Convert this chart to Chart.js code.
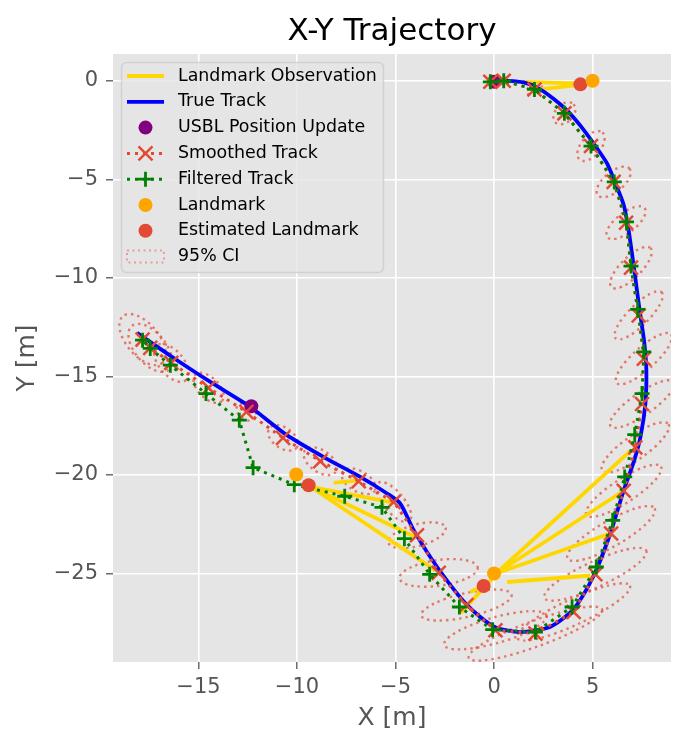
<!DOCTYPE html>
<html>
<head>
<meta charset="utf-8">
<script src="https://cdn.jsdelivr.net/npm/chart.js@4.4.1/dist/chart.umd.min.js"></script>
<style>
  body { margin: 0; background: #fff; }
  canvas { display: block; }
</style>
</head>
<body>
<canvas id="traj" width="687" height="749"></canvas>
<script>
// tick labels
const xTicks = [-15, -10, -5, 0, 5];
const yTicks = [0, -5, -10, -15, -20, -25];

// true track
const trueX = [0, 0.7, 1.5, 2.2, 3.0, 3.7, 4.4, 5.1, 5.74, 6.2, 6.58, 6.8, 7.0, 7.17, 7.34, 7.5, 7.63, 7.73, 7.68, 7.43, 7.1, 6.58, 5.9, 5.06, 4.04, 2.86, 1.33, 0, -1.37, -2.89, -4.08, -4.76, -5.43, -6.79, -8.65, -10.51, -12.37, -14.4, -16.09, -18.12];
const trueY = [0, 0, -0.08, -0.35, -0.9, -1.5, -2.3, -3.25, -4.2, -5.3, -6.3, -7.4, -8.76, -10.0, -11.3, -12.4, -13.33, -14.69, -16.38, -18.07, -19.3, -20.78, -22.97, -25.1, -26.8, -27.7, -27.97, -27.7, -26.6, -24.67, -22.8, -21.45, -20.94, -20.1, -19.09, -17.98, -16.55, -15.28, -14.18, -12.79];

// smoothed track
const smoothX = [-0.19, 0.49, 2.05, 3.57, 4.92, 6.07, 6.7, 6.95, 7.34, 7.6, 7.51, 7.17, 6.58, 5.94, 5.14, 4.04, 2.1, 0.07, -1.4, -2.81, -3.91, -5.1, -6.87, -8.82, -10.71, -12.57, -14.49, -16.38, -17.45, -17.84];
const smoothY = [-0.05, 0, -0.44, -1.65, -3.31, -5.13, -7.2, -9.48, -11.9, -14.1, -16.4, -18.6, -20.8, -22.97, -25.04, -26.95, -28.05, -27.88, -26.6, -24.97, -23.06, -21.37, -20.32, -19.3, -18.12, -16.8, -15.58, -14.31, -13.55, -13.13];

// 95% CI ellipses on the smoothed track (semi-axes in m, tilt in degrees)
const ciA = [0.15, 0.25, 0.4, 0.65, 0.9, 1.05, 1.2, 1.4, 1.65, 1.85, 1.95, 2.05, 2.25, 2.55, 2.85, 3.15, 3.6, 2.7, 2.35, 2.0, 1.5, 1.25, 0.95, 0.95, 0.85, 0.55, 0.95, 1.15, 1.45, 1.55];
const ciB = [0.12, 0.18, 0.3, 0.45, 0.5, 0.5, 0.5, 0.52, 0.52, 0.56, 0.56, 0.6, 0.6, 0.65, 0.65, 0.65, 0.65, 0.65, 0.6, 0.65, 0.55, 0.52, 0.52, 0.55, 0.52, 0.38, 0.52, 0.62, 0.78, 0.82];
const ciAngle = [0, 0, 30, 45, 50, 40, 38, 45, 45, 42, 35, 35, 33, 30, 25, 25, 20, 16, 13, 8, 15, -50, -30, -35, -35, -35, -45, -50, -50, -50];

// filtered track
const filtX = [-0.19, 0.49, 2.05, 3.57, 4.92, 6.1, 6.72, 6.95, 7.29, 7.6, 7.51, 7.14, 6.63, 6.02, 5.19, 3.96, 2.1, -0.07, -1.76, -3.27, -4.55, -5.69, -7.58, -10.14, -12.23, -12.93, -14.62, -16.43, -17.45, -17.84];
const filtY = [-0.05, 0, -0.44, -1.65, -3.31, -5.13, -7.16, -9.4, -11.6, -13.75, -15.87, -17.95, -20.1, -22.3, -24.67, -26.7, -27.97, -27.85, -26.7, -25.04, -23.23, -21.64, -21.08, -20.49, -19.63, -17.22, -15.87, -14.43, -13.58, -13.16];

// USBL fixes, landmarks, estimated landmarks
const usblX = [0, -12.32];
const usblY = [-0.05, -16.51];
const landX = [5.0, 0, -10.04];
const landY = [0, -25.0, -19.98];
const estX = [4.38, -0.53, -9.41];
const estY = [-0.18, -25.63, -20.52];

// landmark observation segments
const obsX0 = [1.42, 2.35, 0.1, 0.1, 0.1, 0.66, -1.2, -1.7, -9.31, -9.31, -9.31, -8.14];
const obsY0 = [-0.05, -0.44, -25.0, -25.0, -25.0, -25.43, -25.94, -27.0, -20.6, -20.6, -20.6, -20.4];
const obsX1 = [4.21, 4.21, 6.95, 6.5, 5.9, 4.9, -0.7, 0.07, -5.1, -4.0, -2.98, -6.88];
const obsY1 = [-0.13, -0.22, -18.75, -20.85, -22.97, -25.1, -25.69, -25.09, -21.4, -23.15, -24.84, -20.27];

const RED = '#E24A33';
const pts = (xs, ys) => xs.map((v, i) => ({ x: v, y: ys[i] }));

const obsSets = obsX0.map((v, i) => ({
  label: 'Landmark Observation',
  data: [{ x: v, y: obsY0[i] }, { x: obsX1[i], y: obsY1[i] }],
  showLine: true, borderColor: '#FFD700', borderWidth: 3.8, pointRadius: 0, order: 9
}));

const ciPlugin = {
  id: 'ci',
  beforeDraw(chart) {
    const { ctx, chartArea: a } = chart;
    ctx.save();
    ctx.fillStyle = '#E5E5E5';
    ctx.fillRect(a.left, a.top, a.width, a.height);
    ctx.restore();
  },
  beforeDatasetsDraw(chart) {
    const { ctx, chartArea: a, scales: { x, y } } = chart;
    ctx.save();
    ctx.beginPath();
    ctx.rect(a.left, a.top, a.width, a.height);
    ctx.clip();
    ctx.strokeStyle = 'rgba(226,74,51,0.7)';
    ctx.lineWidth = 2.4;
    ctx.setLineDash([2.4, 4]);
    smoothX.forEach((cx, i) => {
      const px = x.getPixelForValue(cx), py = y.getPixelForValue(smoothY[i]);
      const rx = Math.abs(x.getPixelForValue(cx + ciA[i]) - px);
      const ry = Math.abs(y.getPixelForValue(smoothY[i] + ciB[i]) - py);
      ctx.beginPath();
      ctx.ellipse(px, py, rx, ry, -ciAngle[i] * Math.PI / 180, 0, 2 * Math.PI);
      ctx.stroke();
    });
    ctx.restore();
  }
};

const legendItems = [
  { label: 'Landmark Observation', kind: 'line', color: '#FFD700' },
  { label: 'True Track', kind: 'line', color: '#0000FF' },
  { label: 'USBL Position Update', kind: 'dot', color: '#800080' },
  { label: 'Smoothed Track', kind: 'dotline', color: RED, marker: 'x' },
  { label: 'Filtered Track', kind: 'dotline', color: '#008000', marker: '+' },
  { label: 'Landmark', kind: 'dot', color: '#FFA500' },
  { label: 'Estimated Landmark', kind: 'dot', color: RED },
  { label: '95% CI', kind: 'patch', color: 'rgba(226,74,51,0.45)' }
];

const legendPlugin = {
  id: 'boxLegend',
  afterDraw(chart) {
    const ctx = chart.ctx;
    const a = chart.chartArea;
    ctx.save();
    // title, centred over the plot area
    ctx.fillStyle = '#000';
    ctx.font = "31px 'DejaVu Sans'";
    ctx.textAlign = 'center';
    ctx.textBaseline = 'alphabetic';
    ctx.fillText('X-Y Trajectory', (a.left + a.right) / 2, 40);

    ctx.beginPath();
    ctx.roundRect(121.5, 62.5, 262, 210, 5);
    ctx.fillStyle = 'rgba(229,229,229,0.8)';
    ctx.fill();
    ctx.strokeStyle = 'rgba(204,204,204,0.8)';
    ctx.lineWidth = 1.5;
    ctx.stroke();

    const x0 = 127, x1 = 164, xm = 145.5;
    legendItems.forEach((it, i) => {
      const yy = 76 + i * 25.8;
      ctx.setLineDash([]);
      if (it.kind === 'line') {
        ctx.strokeStyle = it.color; ctx.lineWidth = 3.8;
        ctx.beginPath(); ctx.moveTo(x0, yy); ctx.lineTo(x1, yy); ctx.stroke();
      } else if (it.kind === 'dot') {
        ctx.fillStyle = it.color;
        ctx.beginPath(); ctx.arc(xm, yy, 7, 0, 2 * Math.PI); ctx.fill();
      } else if (it.kind === 'dotline') {
        ctx.strokeStyle = it.color; ctx.lineWidth = 3;
        ctx.setLineDash([3, 5]);
        ctx.beginPath(); ctx.moveTo(x0, yy); ctx.lineTo(x1, yy); ctx.stroke();
        ctx.setLineDash([]);
        ctx.lineWidth = it.marker === 'x' ? 2.5 : 2.8;
        ctx.beginPath();
        if (it.marker === 'x') {
          ctx.moveTo(xm - 7, yy - 7); ctx.lineTo(xm + 7, yy + 7);
          ctx.moveTo(xm - 7, yy + 7); ctx.lineTo(xm + 7, yy - 7);
        } else {
          ctx.moveTo(xm - 7.5, yy); ctx.lineTo(xm + 7.5, yy);
          ctx.moveTo(xm, yy - 7.5); ctx.lineTo(xm, yy + 7.5);
        }
        ctx.stroke();
      } else {
        ctx.strokeStyle = it.color; ctx.lineWidth = 2;
        ctx.setLineDash([2, 3.5]);
        ctx.strokeRect(x0, yy - 6, x1 - x0, 12);
      }
      ctx.setLineDash([]);
      ctx.fillStyle = '#000';
      ctx.font = "17.4px 'DejaVu Sans'";
      ctx.textBaseline = 'middle';
      ctx.textAlign = 'left';
      ctx.fillText(it.label, 178, yy);
    });
    ctx.restore();
  }
};

Chart.defaults.font.family = "'DejaVu Sans', sans-serif";

new Chart(document.getElementById('traj'), {
  type: 'scatter',
  data: {
    datasets: [
      ...obsSets,
      {
        label: 'True Track', data: pts(trueX, trueY), showLine: true,
        borderColor: '#0000FF', borderWidth: 3.8, pointRadius: 0, tension: 0.25, order: 8
      },
      {
        label: 'USBL Position Update', data: pts(usblX, usblY),
        backgroundColor: '#800080', borderWidth: 0, pointRadius: 7, order: 7
      },
      {
        label: 'Smoothed Track', data: pts(smoothX, smoothY), showLine: true,
        borderColor: RED, borderWidth: 3, borderDash: [3, 5],
        pointStyle: 'crossRot', pointRadius: 9.8, pointBorderColor: RED, pointBorderWidth: 2.5, order: 6
      },
      {
        label: 'Filtered Track', data: pts(filtX, filtY), showLine: true,
        borderColor: '#008000', borderWidth: 3, borderDash: [3, 5],
        pointStyle: 'cross', pointRadius: 7.5, pointBorderColor: '#008000', pointBorderWidth: 2.8, order: 5
      },
      {
        label: 'Estimated Landmark', data: pts(estX, estY),
        backgroundColor: RED, borderWidth: 0, pointRadius: 7, order: 4
      },
      {
        label: 'Landmark', data: pts(landX, landY),
        backgroundColor: '#FFA500', borderWidth: 0, pointRadius: 7, order: 3
      }
    ]
  },
  options: {
    responsive: false,
    animation: false,
    events: [],
    layout: { padding: { left: 0, right: 16, top: 54, bottom: 0 } },
    plugins: {
      legend: { display: false },
      tooltip: { enabled: false },
      title: { display: false }
    },
    scales: {
      x: {
        type: 'linear', min: -19.34, max: 8.98,
        afterBuildTicks: s => { s.ticks = xTicks.map(v => ({ value: v })); },
        afterFit: s => { s.height = 87; },
        ticks: { color: '#555555', font: { size: 21 }, padding: 6,
          callback: v => String(v).replace('-', '\u2212') },
        grid: { color: '#FFFFFF', lineWidth: 1.6, tickColor: '#555555', tickLength: 7, tickWidth: 1.3 },
        border: { display: false },
        title: { display: true, text: 'X [m]', color: '#555555', font: { size: 25 }, padding: { top: 0, bottom: 16 } }
      },
      y: {
        type: 'linear', min: -29.49, max: 1.36,
        afterBuildTicks: s => { s.ticks = yTicks.map(v => ({ value: v })); },
        afterFit: s => { s.width = 113; },
        ticks: { color: '#555555', font: { size: 21 }, padding: 8,
          callback: v => String(v).replace('-', '\u2212') },
        grid: { color: '#FFFFFF', lineWidth: 1.6, tickColor: '#555555', tickLength: 7, tickWidth: 1.3 },
        border: { display: false },
        title: { display: true, text: 'Y [m]', color: '#555555', font: { size: 25 }, padding: { top: 12, bottom: 0 } }
      }
    }
  },
  plugins: [ciPlugin, legendPlugin]
});
</script>
</body>
</html>
